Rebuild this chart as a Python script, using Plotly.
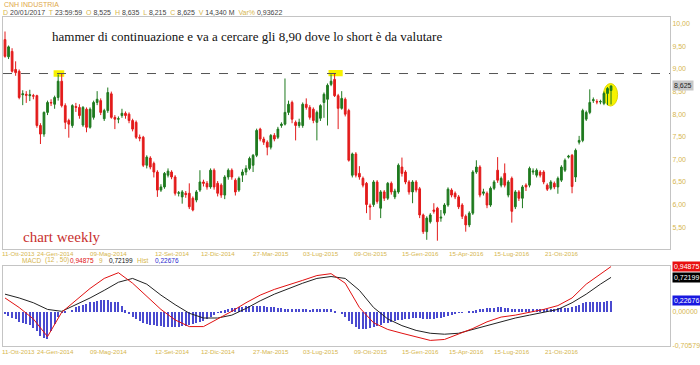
import plotly.graph_objects as go
import pandas as pd

# ---------------- data ----------------
start_date = "2013-10-11"
n_weeks = 172

opens = [9.65,9.27,9.39,8.99,8.95,8.43,8.44,8.41,8.41,8.41,7.75,7.56,8.04,8.26,8.22,8.37,8.73,8.19,7.86,7.75,
         8.17,8.15,7.76,8.11,7.71,7.93,8.26,8.30,7.90,8.08,8.45,7.93,7.89,7.97,8.02,8.00,7.86,7.82,7.49,7.49,
         6.87,7.03,6.91,6.72,6.32,6.39,6.65,6.72,6.61,6.25,6.17,6.25,6.25,6.14,6.10,6.32,6.50,6.47,6.39,6.76,
         6.47,6.43,6.21,6.61,6.76,6.54,6.32,6.65,6.72,6.80,6.87,7.09,7.67,7.45,7.38,7.27,7.53,7.49,7.75,7.78,
         8.04,8.26,7.82,7.75,7.75,8.22,8.15,8.11,7.82,7.91,8.26,8.33,8.66,8.77,8.41,8.13,8.33,8.08,6.65,7.12,
         6.69,6.58,6.47,5.97,6.00,6.50,5.92,6.28,6.14,6.47,6.17,6.28,6.83,6.72,6.50,6.28,6.50,6.35,5.77,5.40,
         5.62,5.88,5.92,5.70,5.81,5.99,6.32,6.25,6.17,5.99,5.74,5.55,5.81,6.72,6.83,6.25,6.25,5.99,6.36,6.76,
         6.43,6.69,6.21,6.58,5.95,6.28,6.14,6.43,6.43,6.72,6.65,6.72,6.72,6.43,6.36,6.47,6.39,6.54,6.76,7.05,
         7.09,6.61,7.38,7.42,7.89,8.04,8.30,8.28,8.27,8.24,8.46,8.525]
highs = [9.83,9.52,9.46,9.17,8.99,8.53,8.51,8.54,8.45,8.43,7.80,8.06,8.30,8.33,8.41,8.88,8.90,8.24,7.90,8.22,
         8.25,8.22,8.18,8.15,8.15,8.30,8.51,8.35,8.12,8.59,8.50,7.98,7.95,8.12,8.06,8.04,7.90,7.86,7.55,7.52,
         7.09,7.07,6.95,6.76,6.45,6.72,6.80,6.76,6.65,6.30,6.32,6.30,6.47,6.18,6.32,6.76,6.55,6.52,6.80,6.80,
         6.52,6.47,6.65,6.80,6.80,6.58,6.62,6.78,6.87,7.06,7.12,7.68,7.70,7.50,7.42,7.56,7.58,7.72,7.82,8.79,
         8.30,8.30,7.86,7.90,8.26,8.35,8.20,8.15,8.08,8.22,8.48,8.68,8.88,8.90,8.45,8.51,8.37,8.12,7.15,7.16,
         6.85,6.62,6.50,6.02,6.54,6.54,6.32,6.32,6.50,6.51,6.35,6.91,7.04,6.76,6.54,6.54,6.54,6.39,5.80,5.74,
         5.81,6.03,5.95,5.88,6.03,6.38,6.36,6.29,6.21,6.03,5.78,5.85,6.76,6.98,6.87,6.35,6.29,6.40,6.54,7.05,
         6.62,6.91,6.54,6.62,6.32,6.32,6.43,6.47,6.84,6.80,6.80,6.76,6.76,6.47,6.54,6.51,6.62,6.87,7.02,7.10,
         7.12,7.24,7.52,8.12,8.08,8.55,8.37,8.33,8.32,8.50,8.60,8.635]
lows = [9.25,9.22,8.92,8.85,8.33,8.20,8.25,8.29,8.33,7.70,7.34,7.50,7.98,8.18,8.12,8.30,8.15,7.67,7.48,7.70,
        8.05,7.90,7.72,7.60,7.68,7.88,8.20,7.98,7.85,8.03,7.90,7.67,7.80,7.92,7.90,7.80,7.62,7.45,7.40,6.83,
        6.80,6.78,6.60,6.17,6.28,6.35,6.60,6.56,6.20,6.18,6.02,6.15,5.90,5.85,6.05,6.28,6.40,6.33,6.35,6.33,
        6.18,6.15,6.12,6.55,6.55,6.20,6.28,6.50,6.65,6.76,6.72,7.05,7.40,7.32,7.09,7.22,7.40,7.45,7.70,7.75,
        7.98,7.80,7.42,7.70,7.70,8.10,7.88,7.80,7.42,7.85,7.92,7.75,8.62,8.38,7.67,8.10,7.95,6.95,6.60,6.60,
        6.55,6.38,5.81,5.66,5.95,6.02,5.70,6.08,6.10,6.22,6.12,6.24,6.62,6.45,6.22,6.03,6.27,5.70,5.35,5.22,
        5.58,5.80,5.20,5.62,5.76,5.95,6.16,6.12,5.90,5.68,5.40,5.50,5.77,6.68,6.16,6.20,5.92,5.95,6.32,6.48,
        6.38,6.38,6.16,5.60,5.90,6.08,5.92,6.30,6.38,6.66,6.60,6.60,6.45,6.30,6.32,6.34,6.24,6.50,6.72,7.02,
        6.25,6.50,7.33,7.38,7.85,8.00,8.25,8.22,8.22,8.20,8.20,8.215]
closes = [9.28,9.49,8.95,8.92,8.37,8.45,8.42,8.43,8.40,7.75,7.56,8.04,8.26,8.25,8.37,8.73,8.19,7.82,7.78,8.19,
          8.15,7.97,8.15,7.71,8.11,8.26,8.33,8.04,8.08,8.48,7.93,7.89,7.90,8.02,7.97,7.86,7.67,7.49,7.47,6.87,
          7.05,6.83,6.72,6.32,6.39,6.69,6.74,6.61,6.25,6.26,6.28,6.22,5.95,5.88,6.28,6.50,6.47,6.39,6.76,6.39,
          6.25,6.21,6.61,6.76,6.61,6.28,6.58,6.72,6.80,7.02,7.09,7.64,7.45,7.38,7.27,7.53,7.45,7.67,7.78,8.04,
          8.22,7.89,7.75,7.82,8.22,8.15,7.93,7.86,8.04,8.19,8.44,8.64,8.73,8.41,8.13,8.35,8.00,6.98,7.12,6.65,
          6.61,6.43,6.00,5.95,6.50,6.07,6.28,6.14,6.47,6.28,6.30,6.87,6.69,6.50,6.28,6.50,6.32,5.77,5.40,5.70,
          5.77,5.85,5.62,5.72,5.99,6.34,6.21,6.17,5.95,5.74,5.55,5.81,6.72,6.83,6.21,6.28,5.99,6.36,6.50,6.54,
          6.58,6.43,6.50,5.85,6.28,6.14,6.39,6.39,6.80,6.74,6.76,6.65,6.50,6.34,6.50,6.39,6.58,6.83,6.98,7.07,
          6.40,7.20,7.42,8.08,8.04,8.26,8.32,8.27,8.28,8.46,8.57,8.625]

# MACD (12,50) and signal (9), read every 4 weeks
macd_idx = [0,4,8,12,16,20,24,28,32,36,40,44,48,52,56,60,64,68,72,76,80,84,88,92,96,100,104,108,112,116,
            120,124,128,132,136,140,144,148,152,156,160,164,168,171]
macd_line = [0.29,0.09,-0.15,-0.52,-0.01,0.25,0.49,0.70,0.82,0.60,0.33,0.05,-0.17,-0.31,-0.31,-0.15,0.01,0.19,
             0.35,0.47,0.56,0.66,0.76,0.80,0.60,0.09,-0.23,-0.37,-0.45,-0.52,-0.60,-0.58,-0.47,-0.35,-0.21,-0.11,
             -0.07,-0.01,0.05,0.13,0.29,0.58,0.80,0.94875]
signal_line = [0.37,0.29,0.19,0.05,0.01,0.15,0.29,0.45,0.62,0.70,0.58,0.35,0.15,-0.03,-0.13,-0.13,-0.07,0.07,
               0.23,0.37,0.49,0.60,0.70,0.74,0.70,0.45,0.09,-0.15,-0.29,-0.39,-0.45,-0.47,-0.45,-0.37,-0.29,-0.21,
               -0.13,-0.07,-0.01,0.05,0.19,0.37,0.58,0.72199]
# histogram, one bar per week
hist_vals = [-0.05,-0.08,-0.12,-0.15, -0.20,-0.22,-0.25,-0.28, -0.34,-0.40,-0.50,-0.55, -0.57,-0.40,-0.25,-0.10,
             -0.02,0.02,0.00,0.05, 0.10,0.12,0.15,0.16, 0.20,0.22,0.24,0.25, 0.25,0.26,0.22,0.20,
             0.20,0.12,0.04,-0.04, -0.10,-0.15,-0.19,-0.22, -0.25,-0.27,-0.28,-0.30, -0.30,-0.31,-0.32,-0.32,
             -0.32,-0.31,-0.30,-0.29, -0.28,-0.26,-0.23,-0.20, -0.18,-0.14,-0.10,-0.06, -0.02,0.01,0.04,0.06,
             0.08,0.09,0.10,0.11, 0.12,0.12,0.13,0.12, 0.12,0.12,0.11,0.10, 0.10,0.09,0.08,0.07,
             0.07,0.07,0.06,0.06, 0.06,0.06,0.05,0.06, 0.06,0.06,0.07,0.07, 0.06,0.03,0.00,-0.05,
             -0.10,-0.18,-0.26,-0.32, -0.36,-0.36,-0.35,-0.34, -0.32,-0.30,-0.27,-0.24, -0.22,-0.20,-0.18,-0.17,
             -0.16,-0.15,-0.14,-0.13, -0.13,-0.13,-0.14,-0.15, -0.15,-0.14,-0.13,-0.12, -0.11,-0.08,-0.06,-0.04,
             -0.02,-0.01,0.00,0.01, 0.02,0.04,0.06,0.07, 0.08,0.09,0.09,0.10, 0.10,0.09,0.08,0.07,
             0.06,0.06,0.06,0.06, 0.06,0.06,0.06,0.06, 0.06,0.06,0.07,0.07, 0.08,0.08,0.09,0.09,
             0.10,0.12,0.15,0.18, 0.21,0.22,0.22,0.22, 0.22,0.22,0.23,0.22676]

tick_dates = ["2013-10-11","2014-01-24","2014-05-09","2014-09-12","2014-12-12","2015-03-27","2015-07-03",
              "2015-10-09","2016-01-15","2016-04-15","2016-07-15","2016-10-21"]
tick_text = ["11-Ott-2013","24-Gen-2014","09-Mag-2014","12-Set-2014","12-Dic-2014","27-Mar-2015","03-Lug-2015",
             "09-Ott-2015","15-Gen-2016","15-Apr-2016","15-Lug-2016","21-Ott-2016"]
price_ticks = [5.5,6.0,6.5,7.0,7.5,8.0,8.5,9.0,9.5,10.0]
target_level = 8.90

# ---------------- figure ----------------
W, H = 700, 365
dates = pd.date_range(start_date, periods=n_weeks, freq="7D")
mdates = [dates[i] for i in macd_idx]

GREEN = "#1f7a1f"
RED = "#e31b1b"
GOLD = "#d6b64e"
FRAME = "#c4c4c4"

fig = go.Figure()
fig.add_trace(go.Candlestick(
    x=dates, open=opens, high=highs, low=lows, close=closes,
    increasing=dict(line=dict(color=GREEN, width=1), fillcolor=GREEN),
    decreasing=dict(line=dict(color=RED, width=1), fillcolor=RED),
    whiskerwidth=0, showlegend=False, xaxis="x", yaxis="y"))

fig.add_trace(go.Bar(x=dates, y=hist_vals, marker=dict(color="#4a4ad0", line=dict(width=0)),
                     width=2.2*86400000, showlegend=False, xaxis="x2", yaxis="y2"))
fig.add_trace(go.Scatter(x=mdates, y=signal_line, mode="lines", line=dict(color="#222222", width=1),
                         showlegend=False, xaxis="x2", yaxis="y2"))
fig.add_trace(go.Scatter(x=mdates, y=macd_line, mode="lines", line=dict(color="#e01010", width=1),
                         showlegend=False, xaxis="x2", yaxis="y2"))

r0 = dates[0] - pd.Timedelta(days=3.95)
r1 = r0 + pd.Timedelta(days=1317.4)
xd = [3/W, 670/W]

def px_to_paper(y):
    return 1 - y / H

xcommon = dict(type="date", range=[r0, r1], domain=xd, showgrid=False, zeroline=False,
               showline=True, linecolor=FRAME, mirror=True, ticks="", showticklabels=False,
               rangeslider=dict(visible=False))

fig.update_layout(
    width=W, height=H, margin=dict(l=0, r=0, t=0, b=0),
    paper_bgcolor="white", plot_bgcolor="white", separators=",.", bargap=0,
    xaxis=dict(anchor="y", **xcommon),
    xaxis2=dict(anchor="y2", **xcommon),
    yaxis=dict(domain=[px_to_paper(251), px_to_paper(17)], range=[5.018, 10.154], side="right",
               showgrid=False, zeroline=False, showline=True, linecolor=FRAME, mirror=True,
               tickvals=price_ticks, tickformat=".2f", ticks="",
               tickfont=dict(family="Liberation Sans", size=7, color=GOLD)),
    yaxis2=dict(domain=[px_to_paper(349), px_to_paper(268)], range=[-0.72, 0.965], side="right",
                showgrid=False, zeroline=False, showline=True, linecolor=FRAME, mirror=True,
                tickvals=[0, -0.70579], ticktext=["0,00000", "-0,70579"], ticks="",
                tickfont=dict(family="Liberation Sans", size=7, color=GOLD)),
)

# date labels under both panels (first one starts at the left edge)
for k, (d, t) in enumerate(zip(tick_dates, tick_text)):
    for yy in (255.5, 354.5):
        if k == 0:
            fig.add_annotation(xref="paper", yref="paper", x=0, y=px_to_paper(yy), xanchor="left",
                               yanchor="middle", text=t, showarrow=False,
                               font=dict(family="Liberation Sans", size=6.2, color=GOLD))
        else:
            fig.add_annotation(xref="x", yref="paper", x=d, y=px_to_paper(yy), xanchor="center",
                               yanchor="middle", text=t, showarrow=False, xshift=-3,
                               font=dict(family="Liberation Sans", size=6.2, color=GOLD))

# dashed target line
fig.add_shape(type="line", xref="x domain", yref="y", x0=0, x1=1, y0=target_level, y1=target_level,
              line=dict(color="#555555", width=1, dash="dash"))

# yellow highlights
day = pd.Timedelta(days=1)
fig.add_shape(type="rect", xref="x", yref="y", x0=dates[14] - 2*day, x1=dates[16] + 5*day,
              y0=target_level - 0.07, y1=target_level + 0.07, fillcolor="#f7f200", line=dict(width=0),
              layer="below")
fig.add_shape(type="rect", xref="x", yref="y", x0=dates[91] + 2*day, x1=dates[95] + 2*day,
              y0=target_level - 0.06, y1=target_level + 0.08, fillcolor="#f7f200", line=dict(width=0),
              layer="below")
fig.add_shape(type="circle", xref="x", yref="y", x0=dates[168] + 6*day, x1=dates[171] + 13*day,
              y0=8.18, y1=8.68, fillcolor="#f7f200", line=dict(color="#e0d800", width=1), layer="below")

# texts
fig.add_annotation(xref="paper", yref="paper", x=50/W, y=px_to_paper(37), xanchor="left", yanchor="middle",
                   text="hammer di continuazione e va a cercare gli 8,90 dove lo short è da valutare",
                   showarrow=False, font=dict(family="Liberation Serif", size=13, color="#111111"))
fig.add_annotation(xref="paper", yref="paper", x=21/W, y=px_to_paper(239), xanchor="left", yanchor="middle",
                   text="chart weekly", showarrow=False,
                   font=dict(family="Liberation Serif", size=15, color="#c8302e"))

fig.add_annotation(xref="paper", yref="paper", x=2/W, y=px_to_paper(5), xanchor="left", yanchor="middle",
                   text="CNH INDUSTRIA", showarrow=False,
                   font=dict(family="Liberation Sans", size=7, color="#e0a848"))

def lab(t):
    return f"<span style='color:{GOLD}'>{t}</span>"

header = (lab("D") + " 20/01/2017  " + lab("T") + " 23:59:59  " + lab("O") + " 8,525  " + lab("H") +
          " 8,635  " + lab("L") + " 8,215  " + lab("C") + " 8,625  " + lab("V") + " 14,340 M  " +
          lab("Var%") + " 0,93622")
fig.add_annotation(xref="paper", yref="paper", x=1/W, y=px_to_paper(13), xanchor="left", yanchor="middle",
                   text=header, showarrow=False, font=dict(family="Liberation Sans", size=7, color="#444444"))

# MACD header pieces
for xpx, txt, col in [(20, "MACD", GOLD), (43, "(12 , 50)", GOLD), (68, "0,94875", "#e01010"),
                      (97, "9", GOLD), (107, "0,72199", "#111111"), (135, "Hist", GOLD),
                      (153, "0,22676", "#2a2ad0")]:
    fig.add_annotation(xref="paper", yref="paper", x=xpx/W, y=px_to_paper(262.5), xanchor="left",
                       yanchor="middle", text=txt, showarrow=False,
                       font=dict(family="Liberation Sans", size=6.5, color=col))

# right-side value tags
fig.add_annotation(xref="paper", yref="y", x=672/W, y=closes[-1], xanchor="left", yanchor="middle",
                   text=f"{closes[-1]:.3f}".replace(".", ","), showarrow=False, bgcolor="#c8c8c8",
                   font=dict(family="Liberation Sans", size=7, color="#222222"), borderpad=1)
for val, bg in [(macd_line[-1], "#e81010"), (signal_line[-1], "#000000"), (hist_vals[-1], "#1818e0")]:
    fig.add_annotation(xref="paper", yref="y2", x=672/W, y=val, xanchor="left", yanchor="middle",
                       text=f"{val:.5f}".replace(".", ","), showarrow=False, bgcolor=bg,
                       font=dict(family="Liberation Sans", size=7, color="white"), borderpad=1)

fig.write_html("out.html")
